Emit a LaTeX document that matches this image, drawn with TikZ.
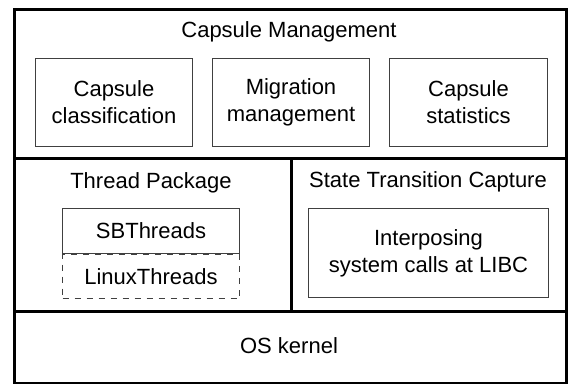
\documentclass[tikz,border=0pt]{standalone}
\usepackage{fontspec}
\setmainfont{Liberation Sans}
\usetikzlibrary{positioning}

\tikzset{
  layer/.style={draw, line width=1.5pt, inner sep=0pt, anchor=north west},
  module/.style={draw=black!75, line width=0.5pt, inner sep=0pt, align=center,
                 anchor=north west, font=\fontsize{11}{13.5}\selectfont},
  caption/.style={inner sep=0pt, font=\fontsize{11}{13.5}\selectfont},
}

\begin{document}
\begin{tikzpicture}[x=0.5pt,y=-0.5pt,node distance=9.5pt]

        \useasboundingbox (0,0) rectangle (571,384);

        % layers
        \node[layer, minimum width=276pt,   minimum height=74.5pt] (capmgmt) at (13,8)    {};
        \node[layer, minimum width=138.5pt, minimum height=76.5pt] (thrpkg)  at (13,157)  {};
        \node[layer, minimum width=137.5pt, minimum height=76.5pt] (stcap)   at (290,157) {};
        \node[layer, minimum width=276pt,   minimum height=36pt]   (oskern)  at (13,310)  {};

        \node[caption] (capmgmtlbl) at (289,32)  {Capsule Management};
        \node[caption] (thrpkglbl)  at (151,183) {Thread Package};
        \node[caption] (stcaplbl)   at (428,182) {State Transition Capture};
        \node[caption] (oskernlbl)  at (289,346) {OS kernel};

        % capsule management modules
        \node[module, minimum width=78.5pt, minimum height=44pt] (capcls)  at (35,58)        {Capsule\\classification};
        \node[module, minimum width=78.5pt, minimum height=44pt] (migmgmt) [right=of capcls]  {Migration\\management};
        \node[module, minimum width=79pt,   minimum height=44pt] (capstat) [right=of migmgmt] {Capsule\\statistics};

        % thread package
        \node[module, minimum width=88.5pt, minimum height=22.5pt] (sbthr)    at (62,208)            {SBThreads};
        \node[module, minimum width=88.5pt, minimum height=22pt, dashed] (linuxthr) [below=0pt of sbthr] {LinuxThreads};

        % state transition capture
        \node[module, minimum width=120pt, minimum height=44.5pt] (interpose) at (308,208) {Interposing\\system calls at LIBC};

\end{tikzpicture}
\end{document}
